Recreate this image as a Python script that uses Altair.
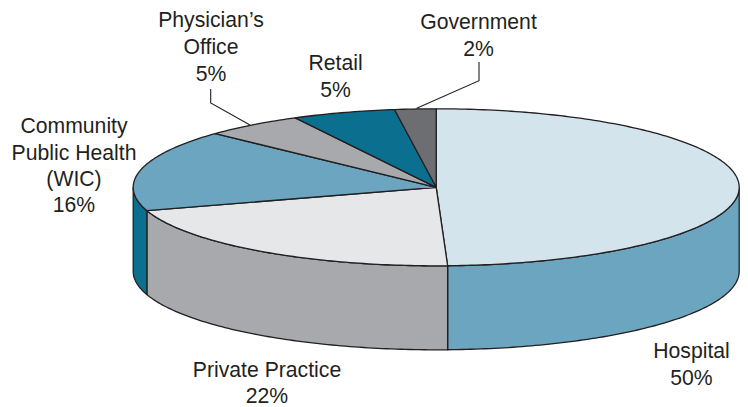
import numpy as np
import pandas as pd
import altair as alt

# Slice data (shares as drawn on the disc, in percent, clockwise from 12 o'clock)
slices = ["Hospital", "Private Practice", "Community Public Health (WIC)", "Physician's Office", "Retail", "Government"]
drawn_share = [49.4, 20.8, 16.8, 5.3, 5.5, 2.2]
top_colors = ["#D3E4ED", "#E6E7E9", "#6CA5BF", "#A7A9AC", "#0B6F8F", "#6D6E71"]
side_colors = ["#6CA5BF", "#A7A9AC", "#0B6F8F", "#A7A9AC", "#0B6F8F", "#6D6E71"]

# Label text, one entry per printed line
label_text = ["Hospital", "50%", "Private Practice", "22%", "Community", "Public Health", "(WIC)", "16%",
              "Physician\u2019s", "Office", "5%", "Retail", "5%", "Government", "2%"]
label_x = [691.5, 691.5, 267, 267, 74, 74, 74, 74, 211, 211, 211, 335.5, 335.5, 478.5, 478.5]
label_y = [358, 385, 376.5, 402.5, 133, 159.5, 186, 212, 27, 54, 81, 69.5, 97, 28.5, 56]

# Disc geometry, in the picture's pixels
CX, CY, RX, RY, DEPTH = 436.2, 187.3, 303.0, 78.5, 84.0
INK = "#231F20"
FONT = "Liberation Sans"
W, H = 732, 399

x_scale = alt.Scale(domain=[8, 8 + W], range=[0, W], nice=False, zero=False)
y_scale = alt.Scale(domain=[8, 8 + H], range=[0, H], nice=False, zero=False)


def rim(t0, t1, drop=0.0):
    """Points on the disc rim between two angles given in percent."""
    n = max(2, int(abs(t1 - t0) * 4) + 2)
    t = np.radians(np.linspace(t0, t1, n) * 3.6)
    return CX + RX * np.sin(t), CY - RY * np.cos(t) + drop


def polygon(xs, ys, fill, width=1.3):
    df = pd.DataFrame({"x": xs, "y": ys, "i": np.arange(len(xs))})
    return (
        alt.Chart(df)
        .mark_line(fill=fill, stroke=INK, strokeWidth=width, strokeJoin="round", interpolate="linear")
        .encode(
            x=alt.X("x:Q", scale=x_scale, axis=None),
            y=alt.Y("y:Q", scale=y_scale, axis=None),
            order=alt.Order("i:Q"),
        )
    )


edges = np.concatenate([[0.0], np.cumsum(drawn_share)])
layers = []

# Outer wall: only the front half of the disc (25%..75%) is visible
for k in range(len(slices)):
    a, b = max(edges[k], 25.0), min(edges[k + 1], 75.0)
    if b <= a:
        continue
    x1, y1 = rim(a, b)
    x2, y2 = rim(b, a, DEPTH)
    layers.append(polygon(np.r_[x1, x2, x1[0]], np.r_[y1, y2, y1[0]], side_colors[k]))

# Top face wedges
for k in range(len(slices)):
    xr, yr = rim(edges[k], edges[k + 1])
    layers.append(polygon(np.r_[CX, xr, CX], np.r_[CY, yr, CY], top_colors[k]))

# Leader lines
leaders = [
    ([210.7, 210.7, 250.0], [89.0, 103.0, 125.0]),
    ([479.0, 479.0, 416.7], [62.0, 80.7, 108.3]),
]
for lx, ly in leaders:
    df = pd.DataFrame({"x": lx, "y": ly, "i": range(len(lx))})
    layers.append(
        alt.Chart(df)
        .mark_line(color=INK, strokeWidth=1.1)
        .encode(
            x=alt.X("x:Q", scale=x_scale, axis=None),
            y=alt.Y("y:Q", scale=y_scale, axis=None),
            order=alt.Order("i:Q"),
        )
    )

# Labels
labels = pd.DataFrame({"text": label_text, "x": label_x, "y": label_y})
layers.append(
    alt.Chart(labels)
    .mark_text(font=FONT, fontSize=21.2, color=INK, align="center", baseline="alphabetic")
    .encode(
        x=alt.X("x:Q", scale=x_scale, axis=None),
        y=alt.Y("y:Q", scale=y_scale, axis=None),
        text="text:N",
    )
)

chart = (
    alt.layer(*layers)
    .properties(width=W, height=H, padding=0, autosize=alt.AutoSizeParams(type="none"), background="white")
    .configure_view(stroke=None)
)

chart.save("out.html", embed_options={"renderer": "svg", "actions": False})
